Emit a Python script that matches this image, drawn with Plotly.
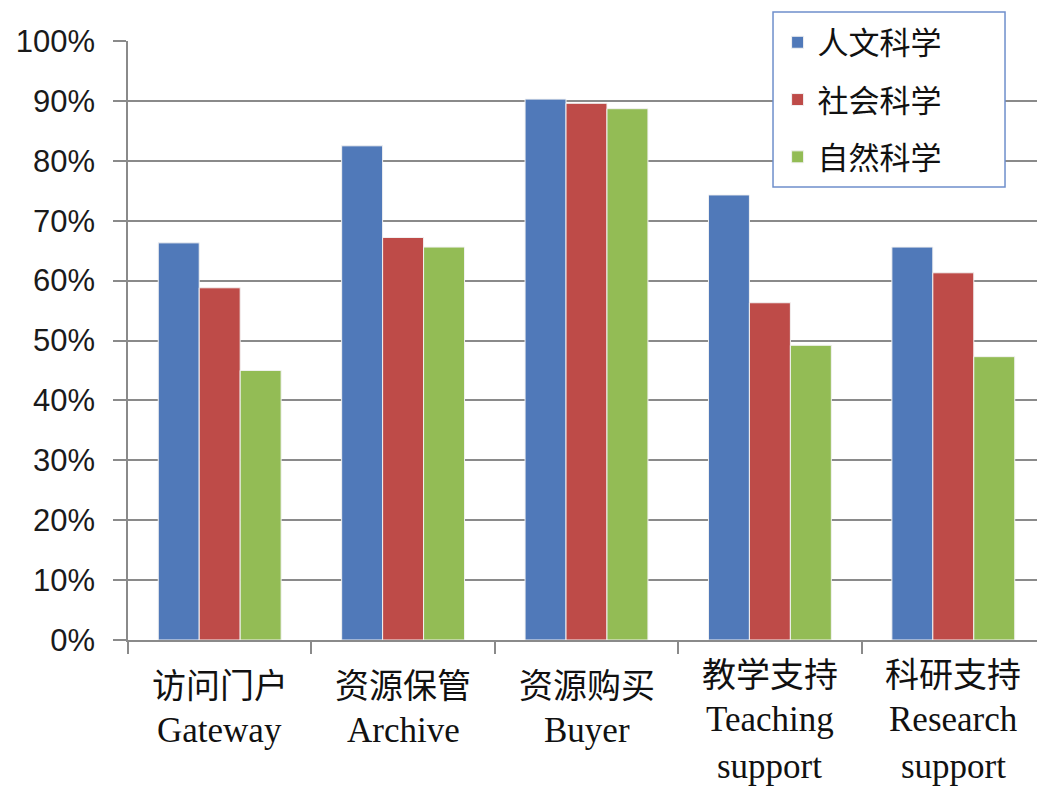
import plotly.graph_objects as go

categories_cn = ["访问门户", "资源保管", "资源购买", "教学支持", "科研支持"]
categories_en = [["Gateway"], ["Archive"], ["Buyer"], ["Teaching", "support"], ["Research", "support"]]
series_names = ["人文科学", "社会科学", "自然科学"]
humanities = [66.3, 82.5, 90.3, 74.3, 65.6]
social = [58.8, 67.2, 89.6, 56.3, 61.3]
natural = [45.0, 65.6, 88.7, 49.2, 47.3]
y_ticks = [0, 10, 20, 30, 40, 50, 60, 70, 80, 90, 100]

colors = ["#5079B9", "#BE4B48", "#93BC55"]
grid = "#8a8a8a"
cjk = "Noto Sans CJK SC"
serif = "Liberation Serif"

fig = go.Figure()
for i, (name, vals) in enumerate(zip(series_names, [humanities, social, natural])):
    fig.add_trace(go.Bar(
        x=categories_cn, y=vals, name=name, legendgroup=name,
        marker=dict(color=colors[i], line=dict(color="#f2f2f2", width=1)),
    ))

annotations = []
for cn, en in zip(categories_cn, categories_en):
    lines = [(cn, cjk, 34)] + [(t, serif, 35) for t in en]
    base = -32 if len(lines) == 3 else -43
    for j, (txt, fam, sz) in enumerate(lines):
        annotations.append(dict(
            x=cn, xref="x", y=0, yref="paper", text=txt, showarrow=False,
            yanchor="middle", xanchor="center", yshift=base - 47 * j,
            font=dict(family=fam, size=sz, color="#111111"),
        ))

# legend frame (drawn as a shape so it can be as wide as the reference box)
legend_box = dict(x0=0.7034, x1=0.9564, y0=0.7563, y1=1.0484)

fig.update_layout(
    width=1037, height=779,
    margin=dict(l=120, r=0, t=33, b=147),
    paper_bgcolor="white", plot_bgcolor="white",
    bargap=0.33, bargroupgap=0,
    showlegend=True,
    legend=dict(
        x=legend_box["x0"] + 0.005, y=legend_box["y1"] - 0.006, xanchor="left", yanchor="top",
        bgcolor="rgba(0,0,0,0)", borderwidth=0,
        font=dict(family=cjk, size=31, color="#111111"),
        traceorder="grouped", tracegroupgap=14, itemwidth=30,
    ),
    shapes=[dict(
        type="rect", xref="paper", yref="paper", layer="above",
        fillcolor="white", line=dict(color="#6f8fcc", width=1.5),
        **legend_box,
    )],
    annotations=annotations,
    xaxis=dict(
        type="category", showticklabels=False,
        showline=True, linecolor=grid, linewidth=1.5,
        ticks="outside", tickson="boundaries", ticklen=12, tickcolor=grid, tickwidth=1.5,
        showgrid=False,
    ),
    yaxis=dict(
        range=[0, 100], tickvals=y_ticks, ticktext=[f"{v}%" for v in y_ticks],
        showline=True, linecolor=grid, linewidth=1.5,
        ticks="outside", ticklen=13, tickcolor=grid, tickwidth=1.5,
        showgrid=True, gridcolor=grid, gridwidth=1.5, zeroline=False,
        tickfont=dict(family="Liberation Sans", size=31, color="#1a1a1a"),
        ticklabelstandoff=12,
    ),
)

fig.write_html("out.html")
